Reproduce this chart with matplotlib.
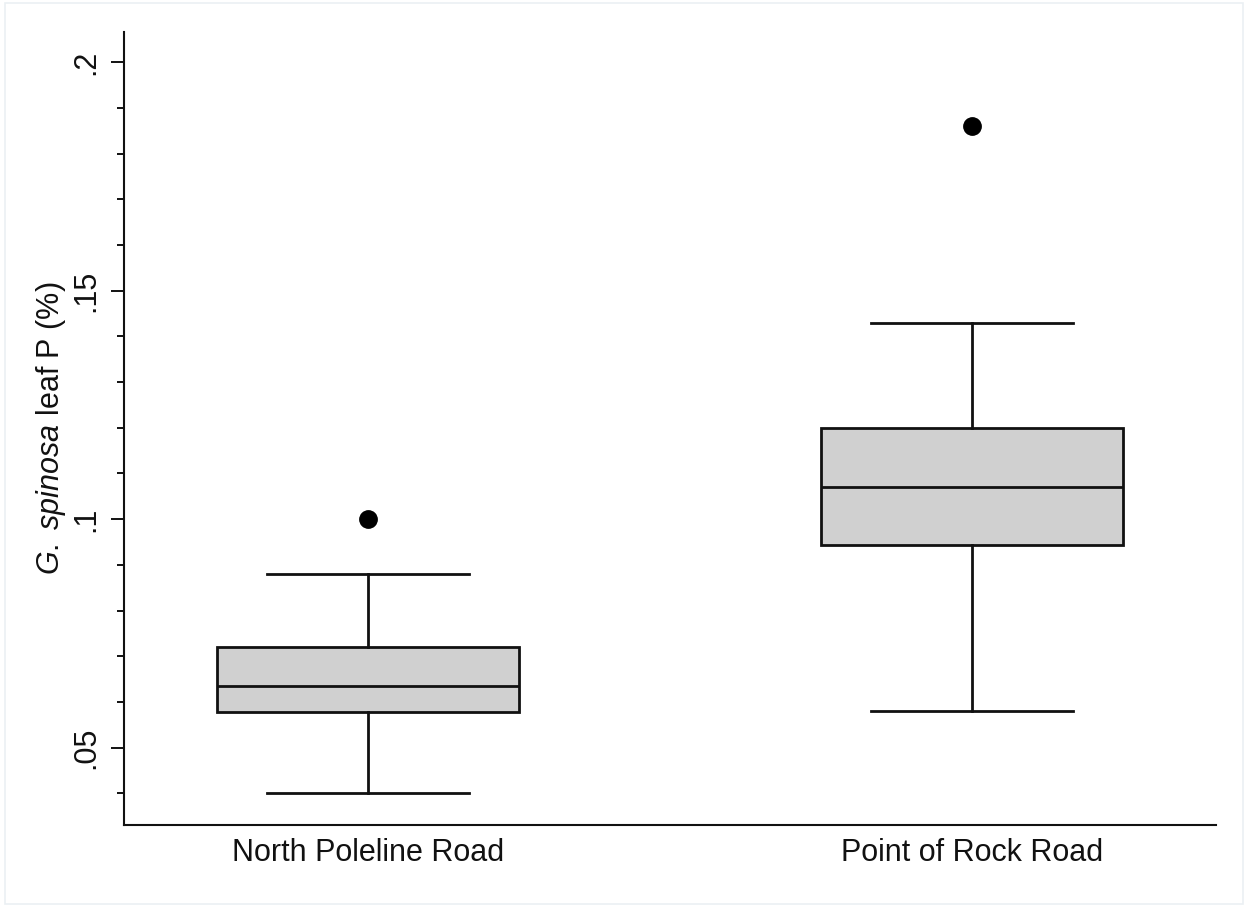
import matplotlib
matplotlib.use("Agg")
import matplotlib.pyplot as plt
from matplotlib.patches import Rectangle
from matplotlib.ticker import FixedLocator, MultipleLocator

# Leaf P summary per site (five-number summary + outliers)
sites = ["North Poleline Road", "Point of Rock Road"]
whisker_low = [0.0400, 0.0580]
q1 = [0.0577, 0.0943]
median = [0.0636, 0.1070]
q3 = [0.0721, 0.1200]
whisker_high = [0.0880, 0.1429]
outliers = [[0.1000], [0.1861]]

y_ticks = [0.05, 0.10, 0.15, 0.20]
y_tick_labels = [".05", ".1", ".15", ".2"]

BOX_FILL = "#D0D0D0"
INK = "#111111"
FS = 22

plt.rcParams["font.family"] = ["Liberation Sans", "DejaVu Sans"]
plt.rcParams["mathtext.fontset"] = "custom"
plt.rcParams["mathtext.rm"] = "Liberation Sans"
plt.rcParams["mathtext.it"] = "Liberation Sans:italic"

fig = plt.figure(figsize=(12.47, 9.07), dpi=100)
fig.patch.set_facecolor("white")
ax = fig.add_axes([0.0998, 0.0904, 0.8757, 0.8743])

stats = []
for i, name in enumerate(sites):
    stats.append({
        "label": name,
        "whislo": whisker_low[i],
        "q1": q1[i],
        "med": median[i],
        "q3": q3[i],
        "whishi": whisker_high[i],
        "fliers": outliers[i],
    })

lw = 2.0
ax.bxp(
    stats, positions=[1, 2], widths=0.5, patch_artist=True,
    showfliers=True,
    boxprops=dict(facecolor=BOX_FILL, edgecolor=INK, linewidth=lw),
    medianprops=dict(color=INK, linewidth=lw),
    whiskerprops=dict(color=INK, linewidth=lw),
    capprops=dict(color=INK, linewidth=lw),
    capwidths=0.334,
    flierprops=dict(marker="o", markerfacecolor="black",
                    markeredgecolor="black", markersize=12.5),
)

ax.set_xlim(0.597, 2.405)
ax.set_ylim(0.03308, 0.2066)

ax.yaxis.set_major_locator(FixedLocator(y_ticks))
ax.set_yticklabels(y_tick_labels, rotation=90, va="center")
ax.yaxis.set_minor_locator(MultipleLocator(0.01))
ax.tick_params(axis="y", which="major", length=9.4, width=1.4,
               labelsize=FS, pad=7, colors=INK)
ax.tick_params(axis="y", which="minor", length=5, width=1.4, colors=INK)
ax.tick_params(axis="x", length=0, labelsize=FS, pad=9, colors=INK)

ax.set_ylabel(r"$\mathit{G.\ spinosa}$ leaf P (%)", fontsize=FS, color=INK)
ax.yaxis.set_label_coords(-0.052, 0.5)

for side in ["top", "right"]:
    ax.spines[side].set_visible(False)
for side in ["left", "bottom"]:
    ax.spines[side].set_linewidth(1.5)
    ax.spines[side].set_color(INK)

# faint outer frame around the whole graph region
fig.patches.append(Rectangle((0.004, 0.003), 0.993, 0.994,
                             transform=fig.transFigure, fill=False,
                             edgecolor="#EBF0F3", linewidth=1.2))

fig.savefig("out.png", dpi=100, facecolor="white")
